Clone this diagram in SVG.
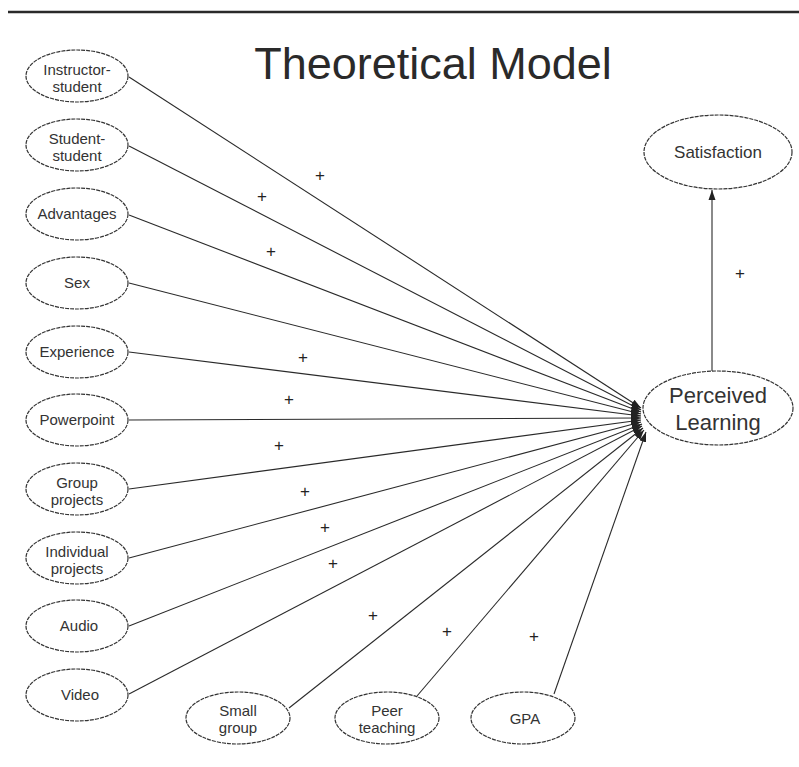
<svg xmlns="http://www.w3.org/2000/svg" width="799" height="767" viewBox="0 0 799 767">
<defs>
<marker id="ah" markerUnits="userSpaceOnUse" markerWidth="11" markerHeight="9" refX="10" refY="4.5" orient="auto">
<path d="M0,1 L10,4.5 L0,8 Z" fill="#222"/>
</marker>
<style>
.n ellipse{fill:#fff;stroke:#333;stroke-width:1.2;stroke-dasharray:4 1}
.n text{font-family:"Liberation Sans",Arial,sans-serif;font-size:15px;fill:#333;text-anchor:middle}
.c line{stroke:#2a2a2a;stroke-width:1.1;marker-end:url(#ah)}
.p{font-family:"Liberation Sans",Arial,sans-serif;font-size:17px;fill:#222;text-anchor:middle}
</style>
</defs>
<rect width="799" height="767" fill="#fff"/>
<line x1="8" y1="12" x2="799" y2="12" stroke="#2a2a2a" stroke-width="2.5"/>
<text x="433" y="79" font-family="'Liberation Sans',Arial,sans-serif" font-size="45" fill="#2a2a2a" text-anchor="middle">Theoretical Model</text>

<g class="c" id="connectors">
<line x1="129" y1="77" x2="641" y2="408"/>
<line x1="129" y1="146" x2="641" y2="410"/>
<line x1="129" y1="215" x2="641" y2="412"/>
<line x1="129" y1="283" x2="641" y2="414"/>
<line x1="129" y1="352" x2="641" y2="416"/>
<line x1="129" y1="420" x2="641" y2="418"/>
<line x1="129" y1="489" x2="641" y2="420"/>
<line x1="129" y1="558" x2="641" y2="422"/>
<line x1="129" y1="626" x2="642" y2="424"/>
<line x1="129" y1="694" x2="642" y2="426"/>
<line x1="289" y1="708" x2="643" y2="428"/>
<line x1="417" y1="696" x2="644" y2="430"/>
<line x1="554" y1="694" x2="646" y2="432"/>
<line x1="712" y1="371" x2="712" y2="190"/>
</g>
<g id="plus-labels">
<text class="p" x="320" y="181">+</text>
<text class="p" x="262" y="202">+</text>
<text class="p" x="271" y="257">+</text>
<text class="p" x="303" y="363">+</text>
<text class="p" x="289" y="405">+</text>
<text class="p" x="279" y="451">+</text>
<text class="p" x="305" y="497">+</text>
<text class="p" x="325" y="533" font-size="14" fill="#555">+</text>
<text class="p" x="333" y="569">+</text>
<text class="p" x="373" y="621">+</text>
<text class="p" x="447" y="637" font-size="14" fill="#555">+</text>
<text class="p" x="534" y="642">+</text>
<text class="p" x="740" y="279">+</text>
</g>

<g class="n" id="instructor-student"><ellipse cx="77" cy="76" rx="51" ry="26"/><text x="77" y="75">Instructor-</text><text x="77" y="92">student</text></g>
<g class="n" id="student-student"><ellipse cx="77" cy="145" rx="51" ry="26"/><text x="77" y="144">Student-</text><text x="77" y="161">student</text></g>
<g class="n" id="advantages"><ellipse cx="77" cy="214" rx="51" ry="26"/><text x="77" y="219">Advantages</text></g>
<g class="n" id="sex"><ellipse cx="77" cy="283" rx="51" ry="26"/><text x="77" y="288">Sex</text></g>
<g class="n" id="experience"><ellipse cx="77" cy="352" rx="51" ry="26"/><text x="77" y="357">Experience</text></g>
<g class="n" id="powerpoint"><ellipse cx="77" cy="420" rx="51" ry="26"/><text x="77" y="425">Powerpoint</text></g>
<g class="n" id="group-projects"><ellipse cx="77" cy="489" rx="51" ry="26"/><text x="77" y="488">Group</text><text x="77" y="505">projects</text></g>
<g class="n" id="individual-projects"><ellipse cx="77" cy="558" rx="51" ry="26"/><text x="77" y="557">Individual</text><text x="77" y="574">projects</text></g>
<g class="n" id="audio"><ellipse cx="77" cy="626" rx="51" ry="26"/><text x="79" y="631">Audio</text></g>
<g class="n" id="video"><ellipse cx="77" cy="695" rx="51" ry="26"/><text x="80" y="700">Video</text></g>
<g class="n" id="small-group"><ellipse cx="238" cy="718" rx="52" ry="26"/><text x="238" y="716">Small</text><text x="238" y="733">group</text></g>
<g class="n" id="peer-teaching"><ellipse cx="387" cy="718" rx="52" ry="26"/><text x="387" y="716">Peer</text><text x="387" y="733">teaching</text></g>
<g class="n" id="gpa"><ellipse cx="523" cy="718" rx="52" ry="26"/><text x="525" y="724">GPA</text></g>
<g class="n" id="satisfaction"><ellipse cx="718" cy="152" rx="74" ry="37"/><text x="718" y="158" style="font-size:17px">Satisfaction</text></g>
<g class="n" id="perceived-learning"><ellipse cx="718" cy="408" rx="75" ry="37"/><text x="718" y="403" style="font-size:22px">Perceived</text><text x="718" y="430" style="font-size:22px">Learning</text></g>
</svg>
